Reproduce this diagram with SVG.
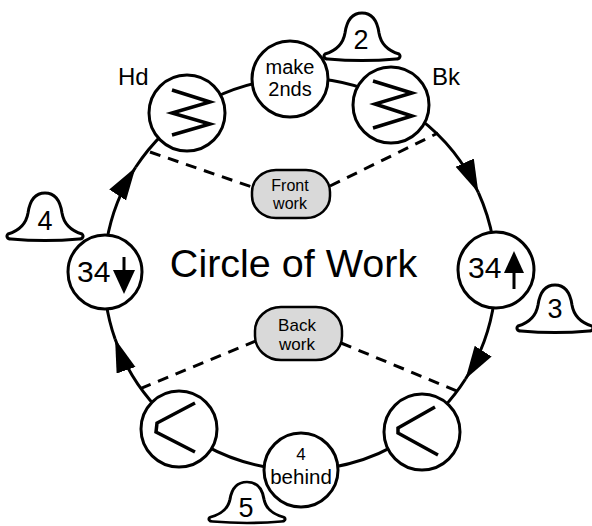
<svg xmlns="http://www.w3.org/2000/svg" width="592" height="526" viewBox="0 0 592 526">
<style>
.n{fill:#fff;stroke:#000;stroke-width:3}
.z{fill:none;stroke:#000;stroke-width:3.5;stroke-linejoin:miter}
.c{fill:none;stroke:#000;stroke-width:3}
.d{fill:none;stroke:#000;stroke-width:3;stroke-dasharray:11 8}
.b{fill:#d9d9d9;stroke:#000;stroke-width:2.5}
.bell{fill:#fff;stroke:#000;stroke-width:3;stroke-linejoin:round}
text{font-family:"Liberation Sans",Arial,sans-serif;fill:#000}
.big{font-size:39.5px}
.nt{font-size:20px}
.lb{font-size:24px}
.num{font-size:30px}
.bn{font-size:27px}
.bt{font-size:16px}
</style>
<defs>
<marker id="arr" markerUnits="userSpaceOnUse" viewBox="0 0 36 22" markerWidth="36" markerHeight="22" refX="33" refY="10" orient="auto">
<path d="M0,0 L33,10 L0,20 Z" fill="#000"/>
</marker>
<path id="bellshape" d="M0,41 C10,38 18,32 20,20 C22,6 28,0 37,0 C46,0 52,6 54,20 C56,32 64,38 74,41 C76,43 75,46 71,46 C50,48 24,48 3,46 C-1,46 -2,43 0,41 Z"/>
</defs>
<rect width="592" height="526" fill="#fff"/>

<g id="connectors">
<path class="c" d="M213.8,98.0 A196,196 0 0 1 259.6,82.2"/>
<path class="c" d="M320.8,79.1 A196,196 0 0 1 364.8,89.0"/>
<path class="c" d="M418.8,118.1 A196,196 0 0 1 478.4,192.7" marker-end="url(#arr)"/>
<path class="c" d="M478.4,192.7 A196,196 0 0 1 492.9,239.3"/>
<path class="c" d="M494.2,300.6 A196,196 0 0 1 465.5,379.0" marker-end="url(#arr)"/>
<path class="c" d="M465.5,379.0 A196,196 0 0 1 442.6,408.4"/>
<path class="c" d="M394.1,445.9 A196,196 0 0 1 331.7,467.4"/>
<path class="c" d="M270.3,467.7 A196,196 0 0 1 205.0,445.4"/>
<path class="c" d="M156.6,407.7 A196,196 0 0 1 115.1,339.1" marker-end="url(#arr)"/>
<path class="c" d="M115.1,339.1 A196,196 0 0 1 106.1,302.6"/>
<path class="c" d="M106.7,241.3 A196,196 0 0 1 135.6,167.3" marker-end="url(#arr)"/>
<path class="c" d="M135.6,167.3 A196,196 0 0 1 163.6,133.3"/>
<line class="d" x1="150" y1="152" x2="252" y2="187"/>
<line class="d" x1="330" y1="186" x2="438" y2="133"/>
<line class="d" x1="256" y1="341" x2="137" y2="390"/>
<line class="d" x1="341" y1="343" x2="457" y2="391"/>
</g>

<g id="node-make2nds">
<circle class="n" cx="290" cy="79" r="38"/>
<text class="nt" x="290" y="74" text-anchor="middle">make</text>
<text class="nt" x="290" y="96" text-anchor="middle">2nds</text>
</g>

<g id="node-hd">
<circle class="n" cx="187" cy="113" r="38"/>
<polyline class="z" points="172,90 210,102 172,113 210,124 172,135"/>
<text class="lb" x="118" y="85">Hd</text>
</g>

<g id="node-bk">
<circle class="n" cx="391" cy="105" r="38"/>
<polyline class="z" points="373,81 412,93 375,104 412,116 373,128"/>
<text class="lb" x="432" y="85">Bk</text>
</g>

<g id="node-34up">
<circle class="n" cx="496" cy="270" r="38"/>
<text class="num" x="468" y="278">34</text>
<line x1="514" y1="270" x2="514" y2="289" stroke="#000" stroke-width="3"/>
<polygon points="514,251 504,273 524,273" fill="#000"/>
</g>

<g id="node-bottom-right">
<circle class="n" cx="422" cy="432" r="38"/>
<polyline class="z" points="435,407 398,428 398,433 438,455"/>
</g>

<g id="node-4behind">
<circle class="n" cx="301" cy="470" r="37"/>
<text x="301" y="460" text-anchor="middle" style="font-size:17px">4</text>
<text x="301" y="484" text-anchor="middle" style="font-size:20.5px">behind</text>
</g>

<g id="node-bottom-left">
<circle class="n" cx="179" cy="429" r="38"/>
<polyline class="z" points="195,403 157,423 156,432 195,452"/>
</g>

<g id="node-34down">
<circle class="n" cx="105" cy="272" r="37"/>
<text class="num" x="77" y="282">34</text>
<line x1="124" y1="257" x2="124" y2="272" stroke="#000" stroke-width="3"/>
<polygon points="113,270 135,270 124,294" fill="#000"/>
</g>

<g id="node-front-work">
<rect class="b" x="252" y="170" width="78" height="48" rx="24" ry="22"/>
<text class="bt" x="290" y="191" text-anchor="middle">Front</text>
<text class="bt" x="290" y="209" text-anchor="middle">work</text>
</g>

<g id="node-back-work">
<rect class="b" x="255" y="307" width="87" height="53" rx="26" ry="24"/>
<text class="bt" x="297" y="331" text-anchor="middle" style="font-size:17px">Back</text>
<text class="bt" x="297" y="350" text-anchor="middle" style="font-size:17px">work</text>
</g>

<g id="title">
<text class="big" x="293.5" y="277" text-anchor="middle">Circle of Work</text>
</g>

<g id="bell-2">
<use href="#bellshape" class="bell" transform="translate(325,13)"/>
<text class="bn" x="361" y="49" text-anchor="middle">2</text>
</g>
<g id="bell-4">
<use href="#bellshape" class="bell" transform="translate(8,193)"/>
<text class="bn" x="45" y="230" text-anchor="middle">4</text>
</g>
<g id="bell-3">
<use href="#bellshape" class="bell" transform="translate(518,285)"/>
<text class="bn" x="555" y="318" text-anchor="middle">3</text>
</g>
<g id="bell-5">
<use href="#bellshape" class="bell" transform="translate(210,482) scale(1,0.86)"/>
<text class="bn" x="246" y="517" text-anchor="middle">5</text>
</g>
</svg>
